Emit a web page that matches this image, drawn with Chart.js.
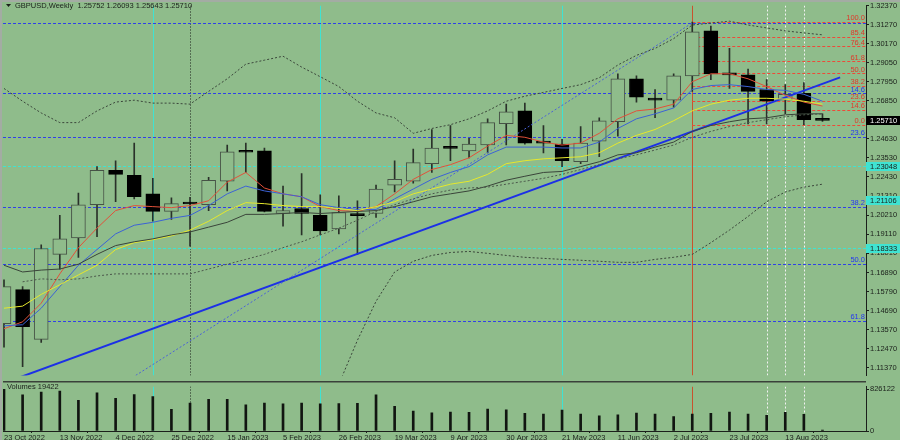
<!DOCTYPE html>
<html>
<head>
<meta charset="utf-8">
<script src="https://cdn.jsdelivr.net/npm/chart.js@4.4.0/dist/chart.umd.min.js"></script>
<style>
  html, body { margin: 0; padding: 0; background: #8fbc8b; }
  #wrap { position: relative; width: 900px; height: 440px; overflow: hidden; background: #8fbc8b; }
  #main { position: absolute; left: 0; top: 0; }
  #vol { position: absolute; left: 0; top: 381px; }
  #frame { position: absolute; left: 0; top: 0; width: 898px; height: 438px; border-top: 2px solid #a3aca3; border-left: 2px solid #a3aca3; pointer-events: none; }
</style>
</head>
<body>
<div id="wrap">
  <canvas id="main" width="900" height="381"></canvas>
  <canvas id="vol" width="900" height="59"></canvas>
  <div id="frame"></div>
</div>
<script>
// weekly bars, GBPUSD
const weeks = ["23 Oct 2022", "30 Oct 2022", "6 Nov 2022", "13 Nov 2022", "20 Nov 2022", "27 Nov 2022",
  "4 Dec 2022", "11 Dec 2022", "18 Dec 2022", "25 Dec 2022", "1 Jan 2023", "8 Jan 2023", "15 Jan 2023",
  "22 Jan 2023", "29 Jan 2023", "5 Feb 2023", "12 Feb 2023", "19 Feb 2023", "26 Feb 2023", "5 Mar 2023",
  "12 Mar 2023", "19 Mar 2023", "26 Mar 2023", "2 Apr 2023", "9 Apr 2023", "16 Apr 2023", "23 Apr 2023",
  "30 Apr 2023", "7 May 2023", "14 May 2023", "21 May 2023", "28 May 2023", "4 Jun 2023", "11 Jun 2023",
  "18 Jun 2023", "25 Jun 2023", "2 Jul 2023", "9 Jul 2023", "16 Jul 2023", "23 Jul 2023", "30 Jul 2023",
  "6 Aug 2023", "13 Aug 2023", "20 Aug 2023", "27 Aug 2023"];

const openP = [1.1392, 1.1590, 1.1301, 1.1794, 1.1890, 1.2082, 1.2281, 1.2252, 1.2145, 1.2043, 1.2090, 1.2082,
  1.2218, 1.2391, 1.2394, 1.2031, 1.2060, 1.2020, 1.1941, 1.2022, 1.2031, 1.2196, 1.2218, 1.2320, 1.2413, 1.2394,
  1.2428, 1.2552, 1.2626, 1.2450, 1.2433, 1.2331, 1.2450, 1.2563, 1.2812, 1.2699, 1.2688, 1.2829, 1.3090, 1.2841,
  1.2835, 1.2750, 1.2688, 1.2728, 1.25752];
const highP = [1.1647, 1.1607, 1.1850, 1.2020, 1.2150, 1.2303, 1.2337, 1.2439, 1.2235, 1.2122, 1.2125, 1.2241,
  1.2428, 1.2439, 1.2411, 1.2190, 1.2263, 1.2139, 1.2134, 1.2105, 1.2196, 1.2337, 1.2405, 1.2518, 1.2541, 1.2467,
  1.2580, 1.2665, 1.2671, 1.2541, 1.2461, 1.2535, 1.2586, 1.2841, 1.2829, 1.2750, 1.2841, 1.3141, 1.3118, 1.2988,
  1.2869, 1.2807, 1.2778, 1.2790, 1.26093];
const lowP = [1.1256, 1.1143, 1.1284, 1.1709, 1.1777, 1.1896, 1.2099, 1.2116, 1.1986, 1.1997, 1.1841, 1.2048,
  1.2162, 1.2269, 1.2040, 1.1958, 1.1907, 1.1907, 1.1913, 1.1794, 1.2009, 1.2156, 1.2207, 1.2269, 1.2337, 1.2354,
  1.2383, 1.2428, 1.2433, 1.2383, 1.2303, 1.2320, 1.2360, 1.2479, 1.2677, 1.2586, 1.2648, 1.2739, 1.2807, 1.2756,
  1.2550, 1.2550, 1.2609, 1.2546, 1.25643];
const closeP = [1.1607, 1.1375, 1.1828, 1.1884, 1.2082, 1.2281, 1.2258, 1.2128, 1.2043, 1.2088, 1.2086, 1.2224,
  1.2388, 1.2386, 1.2043, 1.2048, 1.2031, 1.1930, 1.2037, 1.2019, 1.2173, 1.2229, 1.2326, 1.2411, 1.2409, 1.2433,
  1.2558, 1.2620, 1.2439, 1.2439, 1.2337, 1.2439, 1.2569, 1.2812, 1.2705, 1.2688, 1.2829, 1.3084, 1.2841, 1.2835,
  1.2739, 1.2682, 1.2722, 1.2575, 1.25710];
const volumes = [826122, 717400, 772100, 790300, 608200, 753500, 645100, 722800, 681300, 427100, 554200, 626400,
  626000, 517300, 554600, 536200, 553900, 535800, 541400, 548200, 717100, 487300, 396200, 360400, 372300, 371800,
  432100, 421200, 349300, 336400, 414100, 336200, 300300, 318200, 354100, 336300, 287400, 336100, 349200, 372400,
  336500, 312300, 372100, 330200, 19422];

// indicator lines
const maRed = [1.1363, 1.1403, 1.1511, 1.1681, 1.1833, 1.1946, 1.2048, 1.2077, 1.2071, 1.2065, 1.2077, 1.2105,
  1.2213, 1.2269, 1.2179, 1.2145, 1.2128, 1.2071, 1.2048, 1.2043, 1.2071, 1.2145, 1.2229, 1.2286, 1.2314, 1.2354,
  1.2422, 1.2484, 1.2473, 1.2445, 1.2428, 1.2439, 1.2496, 1.2580, 1.2626, 1.2637, 1.2665, 1.2795, 1.2841, 1.2841,
  1.2812, 1.2767, 1.2716, 1.2677, 1.2654];
const maBlue = [1.1380, 1.1386, 1.1482, 1.1607, 1.1731, 1.1822, 1.1913, 1.1963, 1.1980, 1.2003, 1.2020, 1.2077,
  1.2145, 1.2190, 1.2162, 1.2145, 1.2128, 1.2082, 1.2065, 1.2054, 1.2054, 1.2116, 1.2173, 1.2229, 1.2269, 1.2303,
  1.2371, 1.2416, 1.2416, 1.2416, 1.2411, 1.2411, 1.2445, 1.2524, 1.2580, 1.2609, 1.2643, 1.2750, 1.2773, 1.2778,
  1.2767, 1.2750, 1.2745, 1.2722, 1.2682];
const maYellow = [1.1482, 1.1494, 1.1562, 1.1618, 1.1675, 1.1731, 1.1822, 1.1862, 1.1879, 1.1901, 1.1935, 1.1986,
  1.2048, 1.2094, 1.2088, 1.2077, 1.2071, 1.2071, 1.2060, 1.2048, 1.2071, 1.2099, 1.2145, 1.2173, 1.2201, 1.2218,
  1.2258, 1.2320, 1.2337, 1.2348, 1.2354, 1.2360, 1.2383, 1.2439, 1.2484, 1.2518, 1.2569, 1.2626, 1.2665, 1.2688,
  1.2699, 1.2699, 1.2694, 1.2682, 1.2665];
const maSlow = [1.1731, 1.1692, 1.1703, 1.1709, 1.1737, 1.1794, 1.1845, 1.1867, 1.1884, 1.1907, 1.1924, 1.1952,
  1.1980, 1.2026, 1.2026, 1.2031, 1.2037, 1.2031, 1.2037, 1.2043, 1.2048, 1.2071, 1.2099, 1.2128, 1.2145, 1.2162,
  1.2190, 1.2224, 1.2247, 1.2269, 1.2275, 1.2303, 1.2331, 1.2371, 1.2383, 1.2416, 1.2445, 1.2507, 1.2541, 1.2563,
  1.2580, 1.2586, 1.2603, 1.2609, 1.2609];
const maSlowDot = [null, 1.1635, 1.1652, 1.1647, 1.1652, 1.1669, 1.1681, 1.1681, 1.1681, 1.1681, 1.1681, 1.1709,
  1.1737, 1.1765, 1.1794, 1.1833, 1.1867, 1.1907, 1.1946, 1.1992, 1.2043, 1.2082, 1.2116, 1.2145, 1.2167, 1.2179,
  1.2184, 1.2201, 1.2218, 1.2235, 1.2258, 1.2286, 1.2314, 1.2348, 1.2371, 1.2399, 1.2428, 1.2473, 1.2507, 1.2535,
  1.2558, 1.2575, 1.2592, 1.2603, 1.2609];
const bandUpper = [1.2756, 1.2682, 1.2614, 1.2558, 1.2558, 1.2626, 1.2677, 1.2688, 1.2671, 1.2671, 1.2665, 1.2739,
  1.2812, 1.2897, 1.2920, 1.2943, 1.2880, 1.2824, 1.2767, 1.2682, 1.2614, 1.2586, 1.2496, 1.2524, 1.2546, 1.2580,
  1.2626, 1.2682, 1.2711, 1.2733, 1.2756, 1.2778, 1.2818, 1.2892, 1.2948, 1.2988, 1.3045, 1.3124, 1.3135, 1.3146,
  1.3124, 1.3107, 1.3090, 1.3078, 1.3067];
const bandLower = [null, null, null, null, null, null, null, null, null, null, null, null, null, null, null, null,
  null, null, 1.1041, 1.1296, 1.1522, 1.1692, 1.1754, 1.1788, 1.1805, 1.1811, 1.1800, 1.1788, 1.1777, 1.1771,
  1.1765, 1.1760, 1.1754, 1.1748, 1.1748, 1.1765, 1.1777, 1.1794, 1.1862, 1.1935, 1.2014, 1.2099, 1.2156, 1.2184,
  1.2201];

// drawn objects: trend lines, fibo levels, marker lines
const trendMain = [{ x: 0, y: 1.1048 }, { x: 44.95, y: 1.2820 }];
const trendDotted = [{ x: 6.9, y: 1.1080 }, { x: 37, y: 1.3136 }];
const redFibLevels = [1.3141, 1.3054, 1.3001, 1.2914, 1.2843, 1.2773, 1.2686, 1.2633, 1.2546];
const redFibLabels = ["100.0", "85.4", "76.4", "61.8", "50.0", "38.2", "23.6", "14.6", "0.0"];
const redFibStart = 37;
const blueFibLevels = [1.3136, 1.2728, 1.2475, 1.2071, 1.1740, 1.1410];
const blueFibLabels = ["", "14.6", "23.6", "38.2", "50.0", "61.8"];
const cyanLevels = [1.2306, 1.1833];
const cyanTags = [1.23048, 1.21106, 1.18333];
const cyanBars = [8, 17, 30];
const yearBars = [10];
const redBars = [37];
const whiteBars = [41, 42, 43];
const priceTicks = [1.3237, 1.3127, 1.3017, 1.2905, 1.2795, 1.2685, 1.2463, 1.2353, 1.2243, 1.2131, 1.2021,
  1.1911, 1.1801, 1.1689, 1.1579, 1.1469, 1.1357, 1.1247, 1.1137];
const dateTicks = [0, 3, 6, 9, 12, 15, 18, 21, 24, 27, 30, 33, 36, 39, 42];
const volTicks = [0, 826122];
const lastPrice = 1.25710;
const title = "GBPUSD,Weekly  1.25752 1.26093 1.25643 1.25710";
const volTitle = "Volumes 19422";

const FONT = '"Liberation Sans", Arial, sans-serif';
const BG = "#8fbc8b";
const INK = "#1b201b";
const CYAN = "#3fe3d2";
const FIB_BLUE = "#3040e8";
const X_MIN = -0.054;
const X_MAX = 46.34;

Chart.defaults.font.family = FONT;
Chart.defaults.font.size = 7.5;
Chart.defaults.color = INK;

// marker lines, fibo levels and text drawn around the datasets
const chartObjects = {
  id: "chartObjects",
  beforeDatasetsDraw(chart, args, opts) {
    const { ctx, chartArea: a, scales } = chart;
    const xs = scales.x;
    ctx.save();
    ctx.beginPath();
    ctx.rect(a.left, a.top, a.right - a.left, a.bottom - a.top);
    ctx.clip();
    ctx.lineWidth = 1;
    const vert = (bars, color, dash) => {
      bars.forEach((b) => {
        const px = Math.round(xs.getPixelForValue(b)) + 0.5;
        ctx.strokeStyle = color;
        ctx.setLineDash(dash);
        ctx.beginPath();
        ctx.moveTo(px, a.top);
        ctx.lineTo(px, a.bottom);
        ctx.stroke();
      });
    };
    vert(cyanBars, CYAN, []);
    vert(yearBars, INK, [1, 2]);
    vert(redBars, "#c8532e", []);
    vert(whiteBars, "#f2f2f2", [2, 2]);
    if (opts.panel === "main") {
      const ys = scales.y;
      const hl = (v, x0, color) => {
        const py = Math.round(ys.getPixelForValue(v)) + 0.5;
        ctx.strokeStyle = color;
        ctx.setLineDash([3, 2]);
        ctx.beginPath();
        ctx.moveTo(x0, py);
        ctx.lineTo(a.right, py);
        ctx.stroke();
      };
      blueFibLevels.forEach((v) => hl(v, a.left, FIB_BLUE));
      cyanLevels.forEach((v) => hl(v, a.left, CYAN));
      const rx = xs.getPixelForValue(redFibStart);
      redFibLevels.forEach((v) => hl(v, rx, "#ee4a38"));
    }
    ctx.restore();
  },
  afterDraw(chart, args, opts) {
    const { ctx, chartArea: a, scales } = chart;
    ctx.save();
    ctx.font = "7.5px " + FONT;
    if (opts.panel === "main") {
      const ys = scales.y;
      ctx.textAlign = "right";
      ctx.textBaseline = "bottom";
      ctx.fillStyle = "#2436f2";
      blueFibLevels.forEach((v, i) => ctx.fillText(blueFibLabels[i], a.right - 1, ys.getPixelForValue(v)));
      ctx.fillStyle = "#e0392b";
      redFibLevels.forEach((v, i) => ctx.fillText(redFibLabels[i], a.right - 1, ys.getPixelForValue(v)));
      // price tags on the axis
      const tag = (v, bg, fg) => {
        const py = Math.round(ys.getPixelForValue(v));
        ctx.fillStyle = bg;
        ctx.fillRect(a.right, py - 4, 900 - a.right, 9);
        ctx.fillStyle = fg;
        ctx.textAlign = "left";
        ctx.textBaseline = "middle";
        ctx.fillText(v.toFixed(5), a.right + 4, py + 0.5);
      };
      cyanTags.forEach((v) => tag(v, CYAN, INK));
      tag(lastPrice, "#000000", "#ffffff");
      // title
      ctx.fillStyle = INK;
      ctx.beginPath();
      ctx.moveTo(6, 4);
      ctx.lineTo(11, 4);
      ctx.lineTo(8.5, 7);
      ctx.closePath();
      ctx.fill();
      ctx.textAlign = "left";
      ctx.textBaseline = "middle";
      ctx.fillText(title, 15, 6);
    } else {
      ctx.fillStyle = "#3a413a";
      ctx.fillRect(a.left, 0, a.right - a.left, 1.5);
      ctx.fillStyle = INK;
      ctx.textAlign = "left";
      ctx.textBaseline = "top";
      ctx.fillText(volTitle, 7, 2.5);
    }
    ctx.restore();
  },
};

const pts = (arr) => arr.map((v, i) => ({ x: i, y: v }));
const lineSet = (data, color, dash, width) => ({
  type: "line",
  data: data,
  borderColor: color,
  borderWidth: width || 1,
  borderDash: dash || [],
  pointRadius: 0,
  tension: 0,
  fill: false,
  order: 0,
});

const bull = openP.map((o, i) => closeP[i] >= o);

new Chart(document.getElementById("main"), {
  type: "bar",
  data: {
    datasets: [
      lineSet(pts(bandUpper), "#3b463b", [2, 2]),
      lineSet(pts(bandLower), "#3b463b", [2, 2]),
      lineSet(pts(maSlowDot), "#4b574b", [2, 2]),
      lineSet(pts(maSlow), "#3a443a"),
      lineSet(pts(maYellow), "#e6e82c"),
      lineSet(pts(maBlue), "#3c62d6"),
      lineSet(pts(maRed), "#e2503a"),
      lineSet(trendDotted, "#4a62d8", [2, 2]),
      lineSet(trendMain, "#1c30e6", [], 2),
      {
        data: openP.map((o, i) => ({ x: i, y: [Math.min(o, closeP[i]), Math.max(o, closeP[i])] })),
        backgroundColor: bull.map((b) => (b ? BG : "#000000")),
        borderColor: bull.map((b) => (b ? "#465246" : "#000000")),
        borderWidth: 1,
        borderSkipped: false,
        barThickness: 14,
        minBarLength: 2,
        grouped: false,
        order: 1,
      },
      {
        data: lowP.map((l, i) => ({ x: i, y: [l, highP[i]] })),
        backgroundColor: "#2a312a",
        barThickness: 1,
        grouped: false,
        order: 2,
      },
    ],
  },
  options: {
    responsive: false,
    animation: false,
    events: [],
    layout: { padding: { left: 3, top: 2, right: 0, bottom: 0 } },
    plugins: { legend: { display: false }, tooltip: { enabled: false }, chartObjects: { panel: "main" } },
    scales: {
      x: { type: "linear", min: X_MIN, max: X_MAX, offset: false, display: false },
      y: {
        position: "right",
        min: 1.10918,
        max: 1.3237,
        afterBuildTicks: (ax) => { ax.ticks = priceTicks.map((v) => ({ value: v })); },
        afterFit: (ax) => { ax.width = 34; },
        ticks: { padding: 1, callback: (v) => v.toFixed(5) },
        grid: { drawOnChartArea: false, tickLength: 3, color: INK },
        border: { color: INK },
      },
    },
  },
  plugins: [chartObjects],
});

new Chart(document.getElementById("vol"), {
  type: "bar",
  data: {
    datasets: [
      {
        data: pts(volumes),
        backgroundColor: "#111511",
        barThickness: 2,
        grouped: false,
      },
    ],
  },
  options: {
    responsive: false,
    animation: false,
    events: [],
    layout: { padding: { left: 3, top: 2, right: 0, bottom: 0 } },
    plugins: { legend: { display: false }, tooltip: { enabled: false }, chartObjects: { panel: "vol" } },
    scales: {
      x: {
        type: "linear",
        min: X_MIN,
        max: X_MAX,
        offset: false,
        afterBuildTicks: (ax) => { ax.ticks = dateTicks.map((v) => ({ value: v })); },
        afterFit: (ax) => { ax.height = 9; },
        ticks: { align: "start", padding: 0, maxRotation: 0, autoSkip: false, callback: (v) => weeks[v] },
        grid: { drawOnChartArea: false, tickLength: 2, color: INK },
        border: { color: INK },
      },
      y: {
        position: "right",
        min: 0,
        max: 881200,
        afterBuildTicks: (ax) => { ax.ticks = volTicks.map((v) => ({ value: v })); },
        afterFit: (ax) => { ax.width = 34; },
        ticks: { padding: 1, callback: (v) => String(v) },
        grid: { drawOnChartArea: false, tickLength: 3, color: INK },
        border: { color: INK },
      },
    },
  },
  plugins: [chartObjects],
});
</script>
</body>
</html>
